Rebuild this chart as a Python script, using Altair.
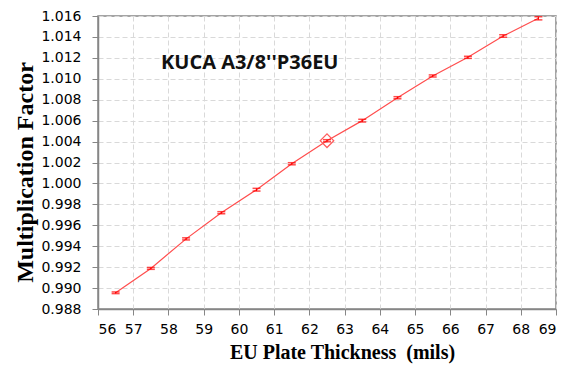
import altair as alt
import pandas as pd

# Plate thickness (mils) and computed multiplication factor with its uncertainty
thickness = [56.5, 57.5, 58.5, 59.5, 60.5, 61.5, 62.5, 63.5, 64.5, 65.5, 66.5, 67.5, 68.5]
mult = [0.98955, 0.99188, 0.99470, 0.99720, 0.99940, 1.00188, 1.00408,
        1.00600, 1.00819, 1.01027, 1.01205, 1.01409, 1.01578]
sigma = [0.00008, 0.00009, 0.00010, 0.00010, 0.00013, 0.00010, 0.00010,
         0.00013, 0.00010, 0.00010, 0.00010, 0.00012, 0.00015]

# Reference configuration marker
ref_thickness = [62.5]
ref_mult = [1.00408]

x_ticks = [56, 57, 58, 59, 60, 61, 62, 63, 64, 65, 66, 67, 68, 69]
y_ticks = [0.988, 0.990, 0.992, 0.994, 0.996, 0.998, 1.000, 1.002,
           1.004, 1.006, 1.008, 1.010, 1.012, 1.014, 1.016]

df = pd.DataFrame({
    "t": thickness,
    "k": mult,
    "lo": [m - s for m, s in zip(mult, sigma)],
    "hi": [m + s for m, s in zip(mult, sigma)],
})
ref = pd.DataFrame({"t": ref_thickness, "k": ref_mult})

x_axis = alt.Axis(values=x_ticks, title="EU Plate Thickness\u00a0 (mils)",
                  titleFontSize=20, titleX=244, titleY=49,
                  titleBaseline="alphabetic", labelPadding=7, tickSize=6)
y_axis = alt.Axis(values=y_ticks, format=".3f", title="Multiplication Factor",
                  titleFontSize=24, titleX=-66, titleY=156, titleAngle=270,
                  titleBaseline="alphabetic", titleAlign="center",
                  labelPadding=11, tickSize=6)

xs = alt.Scale(domain=[56, 69], nice=False, zero=False)
ys = alt.Scale(domain=[0.988, 1.016], nice=False, zero=False)

line = alt.Chart(df).mark_line(color="#ff4d4d", strokeWidth=1.2).encode(
    x=alt.X("t:Q", scale=xs, axis=x_axis),
    y=alt.Y("k:Q", scale=ys, axis=y_axis),
)

err = alt.Chart(df).mark_rule(color="#ff0000", strokeWidth=1.2).encode(
    x=alt.X("t:Q", scale=xs, axis=x_axis),
    y=alt.Y("lo:Q", scale=ys, axis=y_axis),
    y2="hi:Q",
)

cap_lo = alt.Chart(df).mark_tick(color="#ff0000", orient="horizontal",
                                 size=8, thickness=1.5).encode(
    x=alt.X("t:Q", scale=xs, axis=x_axis),
    y=alt.Y("lo:Q", scale=ys, axis=y_axis),
)
cap_hi = alt.Chart(df).mark_tick(color="#ff0000", orient="horizontal",
                                 size=8, thickness=1.5).encode(
    x=alt.X("t:Q", scale=xs, axis=x_axis),
    y=alt.Y("hi:Q", scale=ys, axis=y_axis),
)

diamond = alt.Chart(ref).mark_point(shape="diamond", filled=False,
                                    color="#ff5c5c", strokeWidth=1.2,
                                    size=185, opacity=1).encode(
    x=alt.X("t:Q", scale=xs, axis=x_axis),
    y=alt.Y("k:Q", scale=ys, axis=y_axis),
)

label = alt.Chart(ref).mark_text(
    text="KUCA A3/8''P36EU", font="Open Sans", fontWeight="bold",
    fontSize=20, align="left", baseline="alphabetic", color="#111111",
).encode(x=alt.value(63), y=alt.value(53))

chart = (
    alt.layer(line, err, cap_lo, cap_hi, diamond, label)
    .properties(
        width=458, height=293,
        autosize=alt.AutoSizeParams(type="none"),
        padding={"left": 98, "top": 16, "right": 13, "bottom": 58},
        background="white",
    )
    .configure_axis(
        domainColor="#868686", domainWidth=1.5,
        tickColor="#868686", tickWidth=1,
        gridColor="#d9d9d9", gridDash=[5, 3], gridWidth=1,
        labelFont="DejaVu Sans", labelFontSize=14, labelColor="black",
        titleFont="Liberation Serif", titleFontWeight="bold", titleColor="black",
    )
    .configure_view(stroke="#868686", strokeWidth=1.5)
)

chart.save("out.html", embed_options={"renderer": "svg", "actions": False})
